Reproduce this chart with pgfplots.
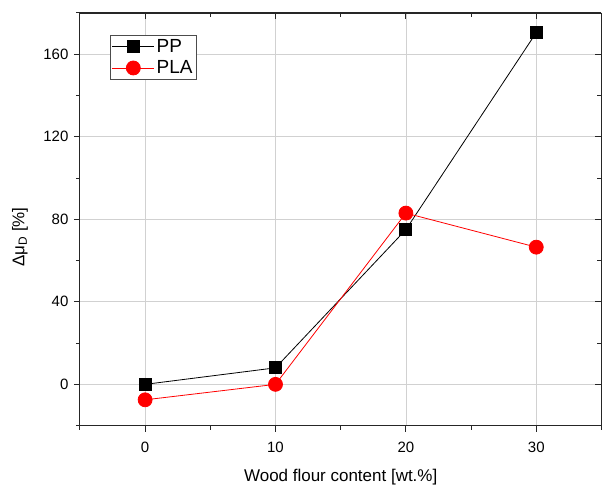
\documentclass[border=0pt]{standalone}
\usepackage{pgfplots}
\pgfplotsset{compat=1.18}
\usepackage{fontspec}
\setmainfont{Liberation Sans}
\begin{document}
\begin{tikzpicture}[font=\fontsize{15}{17}\selectfont]
\pgfplotsset{
  common/.style={
    width=522pt, height=413pt, scale only axis,
    xmin=-5, xmax=35, ymin=-20, ymax=180,
    xtick={0,10,20,30}, ytick={0,40,80,120,160},
    minor xtick={-5,5,15,25,35}, minor ytick={-20,20,60,100,140,180},
    axis line style={-, line width=1.1pt, black!85},
    major tick length=6pt, minor tick length=4pt,
    every tick/.style={black!85, line width=1pt},
    /pgf/number format/assume math mode=true,
  }
}
\begin{axis}[common, name=main,
  axis x line*=bottom, axis y line*=left,
  tick align=outside,
  grid=major, major grid style={black!18, line width=0.7pt},
  xticklabel style={yshift=-7pt},
  yticklabel style={xshift=-2pt},
  xlabel={Wood flour content [wt.\%]},
  ylabel={Δμ\textsubscript{D} [\%]},
  xlabel style={font=\fontsize{17}{19}\selectfont, at={(axis description cs:0.5,-0.126)}, anchor=center},
  ylabel style={font=\fontsize{17}{19}\selectfont, at={(axis description cs:-0.115,0.457)}, anchor=center},
  legend cell align=left,
  legend style={at={(0.057,0.947)}, anchor=north west, draw=black!70, line width=0.6pt,
    font=\fontsize{19}{21}\selectfont, row sep=3pt, inner sep=2pt},
  legend image code/.code={\draw[mark repeat=2,mark phase=2] plot coordinates {(0pt,0pt)(21pt,0pt)(42pt,0pt)};},
]
\addplot[black, line width=0.8pt, mark=square*, mark size=6pt, mark options={solid, fill=black}]
  coordinates {(0,0) (10,8) (20,75) (30,170.5)};
\addlegendentry{PP}
\addplot[red, line width=0.8pt, mark=*, mark size=7pt, mark options={solid, fill=red}]
  coordinates {(0,-7.5) (10,0) (20,83) (30,66.5)};
\addlegendentry{PLA}
\end{axis}
\begin{scope}[overlay]
\begin{axis}[common,
  axis x line*=top, axis y line*=right,
  tick align=inside,
  xticklabels={}, yticklabels={},
]
\end{axis}
\end{scope}
\path (main.north west) ++(0,13pt) coordinate (t);
\path (t) circle (0pt);
\path (main.south west) ++(-80pt,-63pt) coordinate (b);
\path (b) circle (0pt);
\end{tikzpicture}
\end{document}
